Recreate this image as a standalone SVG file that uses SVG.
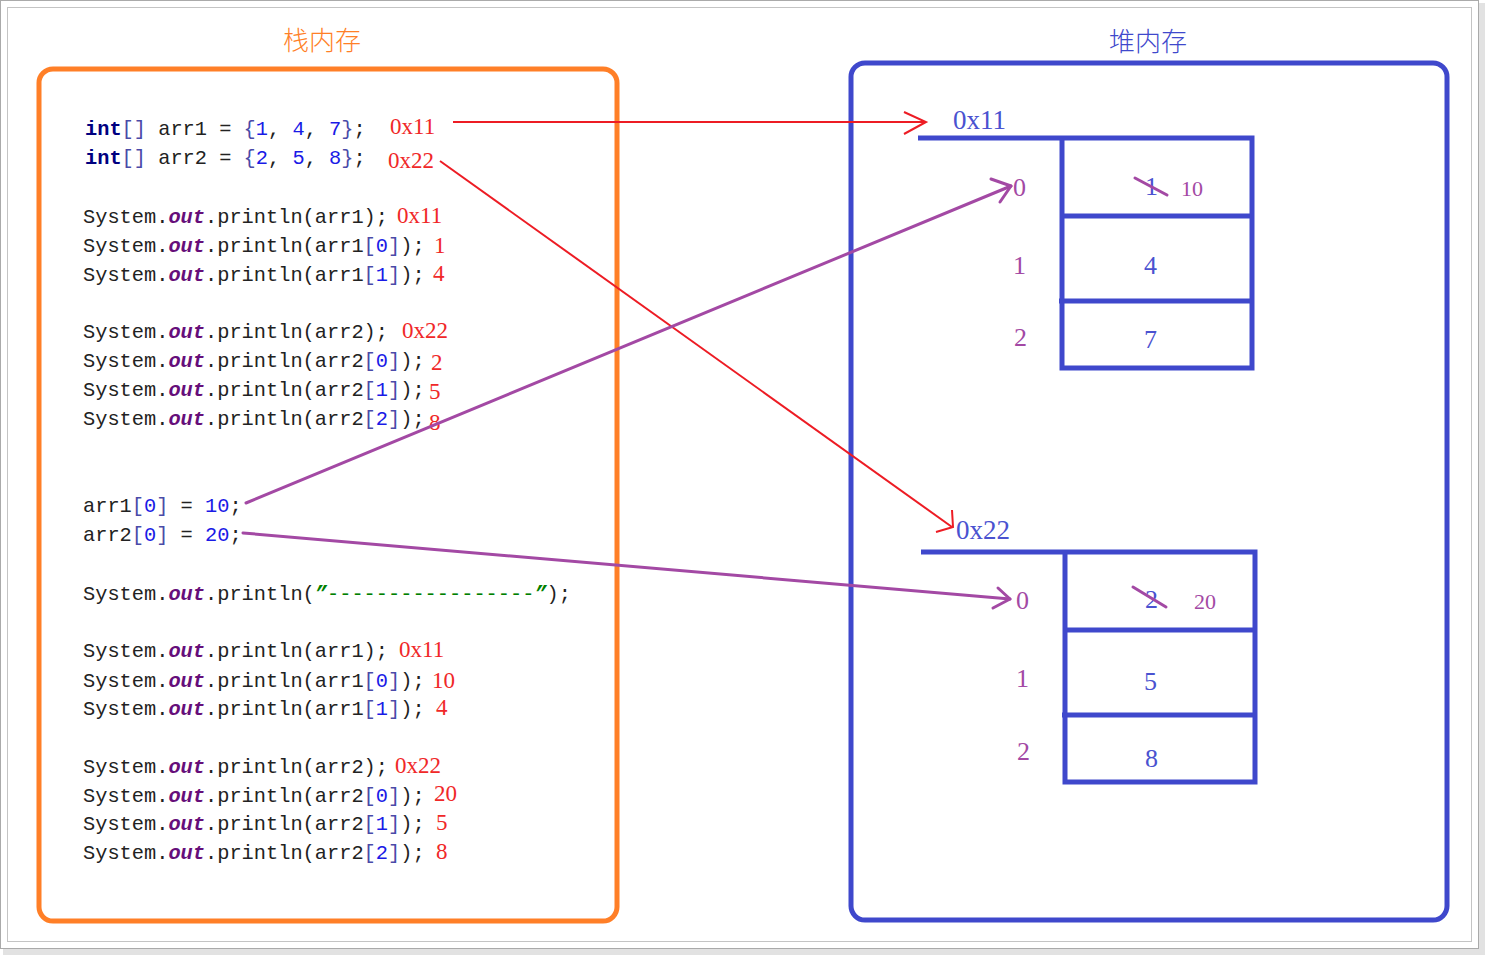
<svg xmlns="http://www.w3.org/2000/svg" width="1485" height="955" viewBox="0 0 1485 955">
<style>
.code{font-family:"Liberation Mono","DejaVu Sans Mono",monospace;font-size:20.33px;fill:#222}
.kw{font-weight:bold;fill:#000080}
.out{font-weight:bold;font-style:italic;fill:#660e7a}
.num{fill:#1a1ae6}
.br{fill:#4a4aa8}
.str{fill:#008000}
.q{fill:#008000;font-weight:bold;font-style:italic}
.ann{font-family:"Liberation Serif",serif;font-size:23px;fill:#f02828}
.title{font-family:"Noto Sans CJK SC",sans-serif;font-size:26px;font-weight:300;text-anchor:middle}
.hlabel{font-family:"Liberation Serif",serif;font-size:27px;fill:#4a52d0}
.idx{font-family:"Liberation Serif",serif;font-size:26px;fill:#a349a4}
.val{font-family:"Liberation Serif",serif;font-size:26px;fill:#4a52d0}
.newv{font-family:"Liberation Serif",serif;font-size:22px;fill:#a349a4}
.heapline{stroke:#3f48cc;stroke-width:5;fill:none}
.red{stroke:#ed1c24;stroke-width:2;fill:none}
.pur{stroke:#a349a4;stroke-width:3;fill:none;stroke-linecap:round;stroke-linejoin:round}
</style>

<g id="frame">
  <rect x="3" y="3" width="1482" height="952" fill="#e2e2e2"/>
  <rect x="0.5" y="0.5" width="1478" height="948" fill="#ffffff" stroke="#aaaaaa" stroke-width="1"/>
  <rect x="7.5" y="7.5" width="1464" height="934" fill="none" stroke="#c4c4c4" stroke-width="1"/>
</g>

<g id="stack">
  <text class="title" x="322" y="50" fill="#ff7f27">栈内存</text>
  <rect x="39" y="69" width="578" height="852" rx="14" ry="14" fill="none" stroke="#ff7f27" stroke-width="5"/>
  <g id="code">
    <text class="code" x="85" y="135"><tspan class="kw">int</tspan><tspan class="br">[]</tspan> arr1 = <tspan class="br">{</tspan><tspan class="num">1</tspan>, <tspan class="num">4</tspan>, <tspan class="num">7</tspan><tspan class="br">}</tspan>;</text>
    <text class="code" x="85" y="164"><tspan class="kw">int</tspan><tspan class="br">[]</tspan> arr2 = <tspan class="br">{</tspan><tspan class="num">2</tspan>, <tspan class="num">5</tspan>, <tspan class="num">8</tspan><tspan class="br">}</tspan>;</text>
    <text class="ann" x="390" y="134">0x11</text>
    <text class="ann" x="388" y="168">0x22</text>

    <text class="code" x="83" y="223">System.<tspan class="out">out</tspan>.println(arr1);</text>
    <text class="ann" x="397" y="223">0x11</text>
    <text class="code" x="83" y="252">System.<tspan class="out">out</tspan>.println(arr1<tspan class="br">[</tspan><tspan class="num">0</tspan><tspan class="br">]</tspan>);</text>
    <text class="ann" x="434" y="253">1</text>
    <text class="code" x="83" y="281">System.<tspan class="out">out</tspan>.println(arr1<tspan class="br">[</tspan><tspan class="num">1</tspan><tspan class="br">]</tspan>);</text>
    <text class="ann" x="433" y="281">4</text>

    <text class="code" x="83" y="338">System.<tspan class="out">out</tspan>.println(arr2);</text>
    <text class="ann" x="402" y="338">0x22</text>
    <text class="code" x="83" y="367">System.<tspan class="out">out</tspan>.println(arr2<tspan class="br">[</tspan><tspan class="num">0</tspan><tspan class="br">]</tspan>);</text>
    <text class="ann" x="431" y="370">2</text>
    <text class="code" x="83" y="396">System.<tspan class="out">out</tspan>.println(arr2<tspan class="br">[</tspan><tspan class="num">1</tspan><tspan class="br">]</tspan>);</text>
    <text class="ann" x="429" y="399">5</text>
    <text class="code" x="83" y="425">System.<tspan class="out">out</tspan>.println(arr2<tspan class="br">[</tspan><tspan class="num">2</tspan><tspan class="br">]</tspan>);</text>
    <text class="ann" x="429" y="430">8</text>

    <text class="code" x="83" y="512">arr1<tspan class="br">[</tspan><tspan class="num">0</tspan><tspan class="br">]</tspan> = <tspan class="num">10</tspan>;</text>
    <text class="code" x="83" y="541">arr2<tspan class="br">[</tspan><tspan class="num">0</tspan><tspan class="br">]</tspan> = <tspan class="num">20</tspan>;</text>

    <text class="code" x="83" y="600">System.<tspan class="out">out</tspan>.println(<tspan class="q">”</tspan><tspan class="str">-----------------</tspan><tspan class="q">”</tspan>);</text>

    <text class="code" x="83" y="657">System.<tspan class="out">out</tspan>.println(arr1);</text>
    <text class="ann" x="399" y="657">0x11</text>
    <text class="code" x="83" y="687">System.<tspan class="out">out</tspan>.println(arr1<tspan class="br">[</tspan><tspan class="num">0</tspan><tspan class="br">]</tspan>);</text>
    <text class="ann" x="432" y="688">10</text>
    <text class="code" x="83" y="715">System.<tspan class="out">out</tspan>.println(arr1<tspan class="br">[</tspan><tspan class="num">1</tspan><tspan class="br">]</tspan>);</text>
    <text class="ann" x="436" y="715">4</text>

    <text class="code" x="83" y="773">System.<tspan class="out">out</tspan>.println(arr2);</text>
    <text class="ann" x="395" y="773">0x22</text>
    <text class="code" x="83" y="802">System.<tspan class="out">out</tspan>.println(arr2<tspan class="br">[</tspan><tspan class="num">0</tspan><tspan class="br">]</tspan>);</text>
    <text class="ann" x="434" y="801">20</text>
    <text class="code" x="83" y="830">System.<tspan class="out">out</tspan>.println(arr2<tspan class="br">[</tspan><tspan class="num">1</tspan><tspan class="br">]</tspan>);</text>
    <text class="ann" x="436" y="830">5</text>
    <text class="code" x="83" y="859">System.<tspan class="out">out</tspan>.println(arr2<tspan class="br">[</tspan><tspan class="num">2</tspan><tspan class="br">]</tspan>);</text>
    <text class="ann" x="436" y="859">8</text>
  </g>
</g>

<g id="heap">
  <text class="title" x="1148" y="51" fill="#3f48cc">堆内存</text>
  <rect x="851" y="63" width="596" height="857" rx="14" ry="14" fill="none" stroke="#3f48cc" stroke-width="5"/>
</g>

<g id="array1">
  <text class="hlabel" x="953" y="129">0x11</text>
  <path class="heapline" d="M918,138 H1252 V368 H1062 V138 M1062,216 H1252 M1059,301 H1252"/>
  <text class="idx" x="1013" y="196">0</text>
  <text class="idx" x="1013" y="274">1</text>
  <text class="idx" x="1014" y="346">2</text>
  <text class="val" x="1145" y="195">1</text>
  <text class="newv" x="1181" y="196">10</text>
  <text class="val" x="1144" y="274">4</text>
  <text class="val" x="1144" y="348">7</text>
</g>

<g id="array2">
  <text class="hlabel" x="956" y="539">0x22</text>
  <path class="heapline" d="M921,552 H1255 V782 H1065 V552 M1065,630 H1255 M1062,715 H1255"/>
  <text class="idx" x="1016" y="609">0</text>
  <text class="idx" x="1016" y="687">1</text>
  <text class="idx" x="1017" y="760">2</text>
  <text class="val" x="1145" y="608">2</text>
  <text class="newv" x="1194" y="609">20</text>
  <text class="val" x="1144" y="690">5</text>
  <text class="val" x="1145" y="767">8</text>
</g>

<g id="connectors">
  <path class="red" d="M453,122 H926"/>
  <path class="red" d="M904,112 L926,122 L904,134"/>
  <path class="red" d="M440,161 L952,527"/>
  <path class="red" d="M952,510 L953,527 L936,532"/>
  <path class="pur" d="M246,503 L1011,186"/>
  <path class="pur" d="M991,179 L1011,186 L1000,202"/>
  <path class="pur" d="M243,533 L1010,599"/>
  <path class="pur" d="M998,588 L1010,599 L993,608"/>
  <path class="pur" d="M1135,178 L1167,195"/>
  <path class="pur" d="M1133,587 L1166,607"/>
</g>
</svg>
